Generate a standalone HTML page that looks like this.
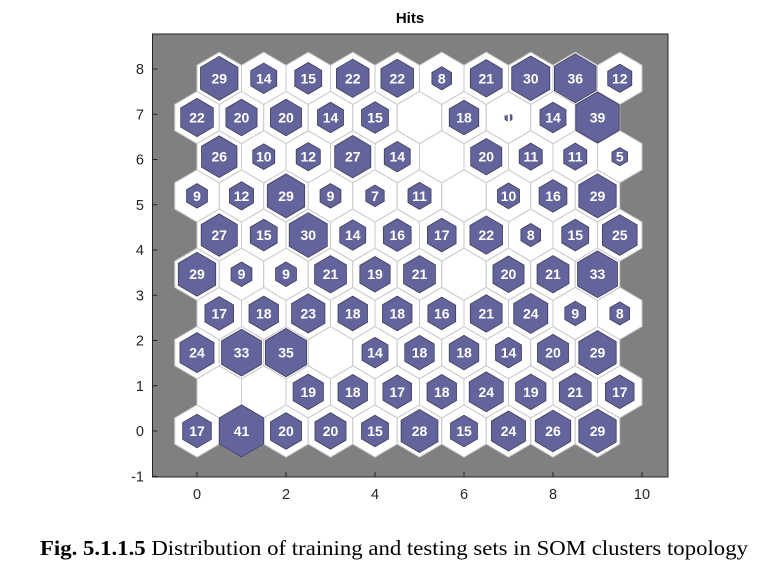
<!DOCTYPE html>
<html><head><meta charset="utf-8"><style>
body{margin:0;background:#fff;width:772px;height:585px;overflow:hidden}
svg{display:block}
</style></head><body>
<svg id="chart" width="772" height="585" xmlns="http://www.w3.org/2000/svg" font-family="Liberation Sans, Arial, sans-serif">
<text x="410" y="23" text-anchor="middle" font-weight="bold" font-size="15">Hits</text>
<rect x="152.5" y="34" width="515.5" height="443" fill="#808080" stroke="#262626" stroke-width="1"/>
<g id="cells"></g>
<g id="axes"></g>
<text x="40" y="555" font-family="Liberation Serif, serif" font-size="21" textLength="708" lengthAdjust="spacingAndGlyphs"><tspan font-weight="bold">Fig. 5.1.1.5</tspan> Distribution of training and testing sets in SOM clusters topology</text>
</svg>
<script>
// hits per row, bottom row first; odd rows offset by 0.5
const row0=[17,41,20,20,15,28,15,24,26,29];
const row1=[0,0,19,18,17,18,24,19,21,17];
const row2=[24,33,35,0,14,18,18,14,20,29];
const row3=[17,18,23,18,18,16,21,24,9,8];
const row4=[29,9,9,21,19,21,0,20,21,33];
const row5=[27,15,30,14,16,17,22,8,15,25];
const row6=[9,12,29,9,7,11,0,10,16,29];
const row7=[26,10,12,27,14,0,20,11,11,5];
const row8=[22,20,20,14,15,0,18,1,14,39];
const row9=[29,14,15,22,22,8,21,30,36,12];
const xTicks=[0,2,4,6,8,10];
const yTicks=[-1,0,1,2,3,4,5,6,7,8];
const rows=[row0,row1,row2,row3,row4,row5,row6,row7,row8,row9];
const NS="http://www.w3.org/2000/svg";
const X=v=>197+v*44.5, Y=v=>431-v*45.25;
const maxHit=Math.max(...rows.flat());
const R=1/Math.sqrt(3);
function hexPts(cx,cy,s){
  const p=[];
  for(let k=0;k<6;k++){const a=Math.PI/6+k*Math.PI/3;p.push(X(cx+s*R*Math.cos(a)).toFixed(2)+','+Y(cy+s*R*Math.sin(a)).toFixed(2));}
  return p.join(' ');
}
const cells=document.getElementById('cells');
rows.forEach((r,ri)=>{
  r.forEach((h,ci)=>{
    const cx=ci+(ri%2?0.5:0), cy=ri*Math.sqrt(3)/2;
    const bg=document.createElementNS(NS,'polygon');
    bg.setAttribute('points',hexPts(cx,cy,1));
    bg.setAttribute('fill','#fff');bg.setAttribute('stroke','#c8c8c8');bg.setAttribute('stroke-width','1');
    
    
    cells.appendChild(bg);
  });
});
rows.forEach((r,ri)=>{
  r.forEach((h,ci)=>{
    if(h<=0)return;
    const cx=ci+(ri%2?0.5:0), cy=ri*Math.sqrt(3)/2;
    const s=Math.sqrt(h/maxHit);
    const hx=document.createElementNS(NS,'polygon');
    hx.setAttribute('points',hexPts(cx,cy,s));
    hx.setAttribute('fill','#64649c');hx.setAttribute('stroke','#3c3c5c');hx.setAttribute('stroke-width','0.8');
    
    
    cells.appendChild(hx);
    const t=document.createElementNS(NS,'text');
    t.setAttribute('x',X(cx));t.setAttribute('y',Y(cy)+5);
    t.setAttribute('text-anchor','middle');t.setAttribute('fill','#fff');
    t.setAttribute('font-size','14');t.setAttribute('font-weight','bold');
    t.textContent=h;
    
    
    cells.appendChild(t);
  });
});
const axes=document.getElementById('axes');
xTicks.forEach(v=>{
  const l=document.createElementNS(NS,'line');
  l.setAttribute('x1',X(v));l.setAttribute('x2',X(v));l.setAttribute('y1',477);l.setAttribute('y2',472);l.setAttribute('stroke','#262626');
  
  
  axes.appendChild(l);
  const t=document.createElementNS(NS,'text');
  t.setAttribute('x',X(v));t.setAttribute('y',499);t.setAttribute('text-anchor','middle');t.setAttribute('font-size','14.5');t.setAttribute('fill','#262626');
  t.textContent=v;
  
  
  axes.appendChild(t);
});
yTicks.forEach(v=>{
  const l=document.createElementNS(NS,'line');
  l.setAttribute('x1',152.5);l.setAttribute('x2',157.5);l.setAttribute('y1',Y(v));l.setAttribute('y2',Y(v));l.setAttribute('stroke','#262626');
  
  
  axes.appendChild(l);
  const t=document.createElementNS(NS,'text');
  t.setAttribute('x',144);t.setAttribute('y',Y(v)+5);t.setAttribute('text-anchor','end');t.setAttribute('font-size','14.5');t.setAttribute('fill','#262626');
  t.textContent=v;
  
  
  axes.appendChild(t);
});
</script>
</body></html>
